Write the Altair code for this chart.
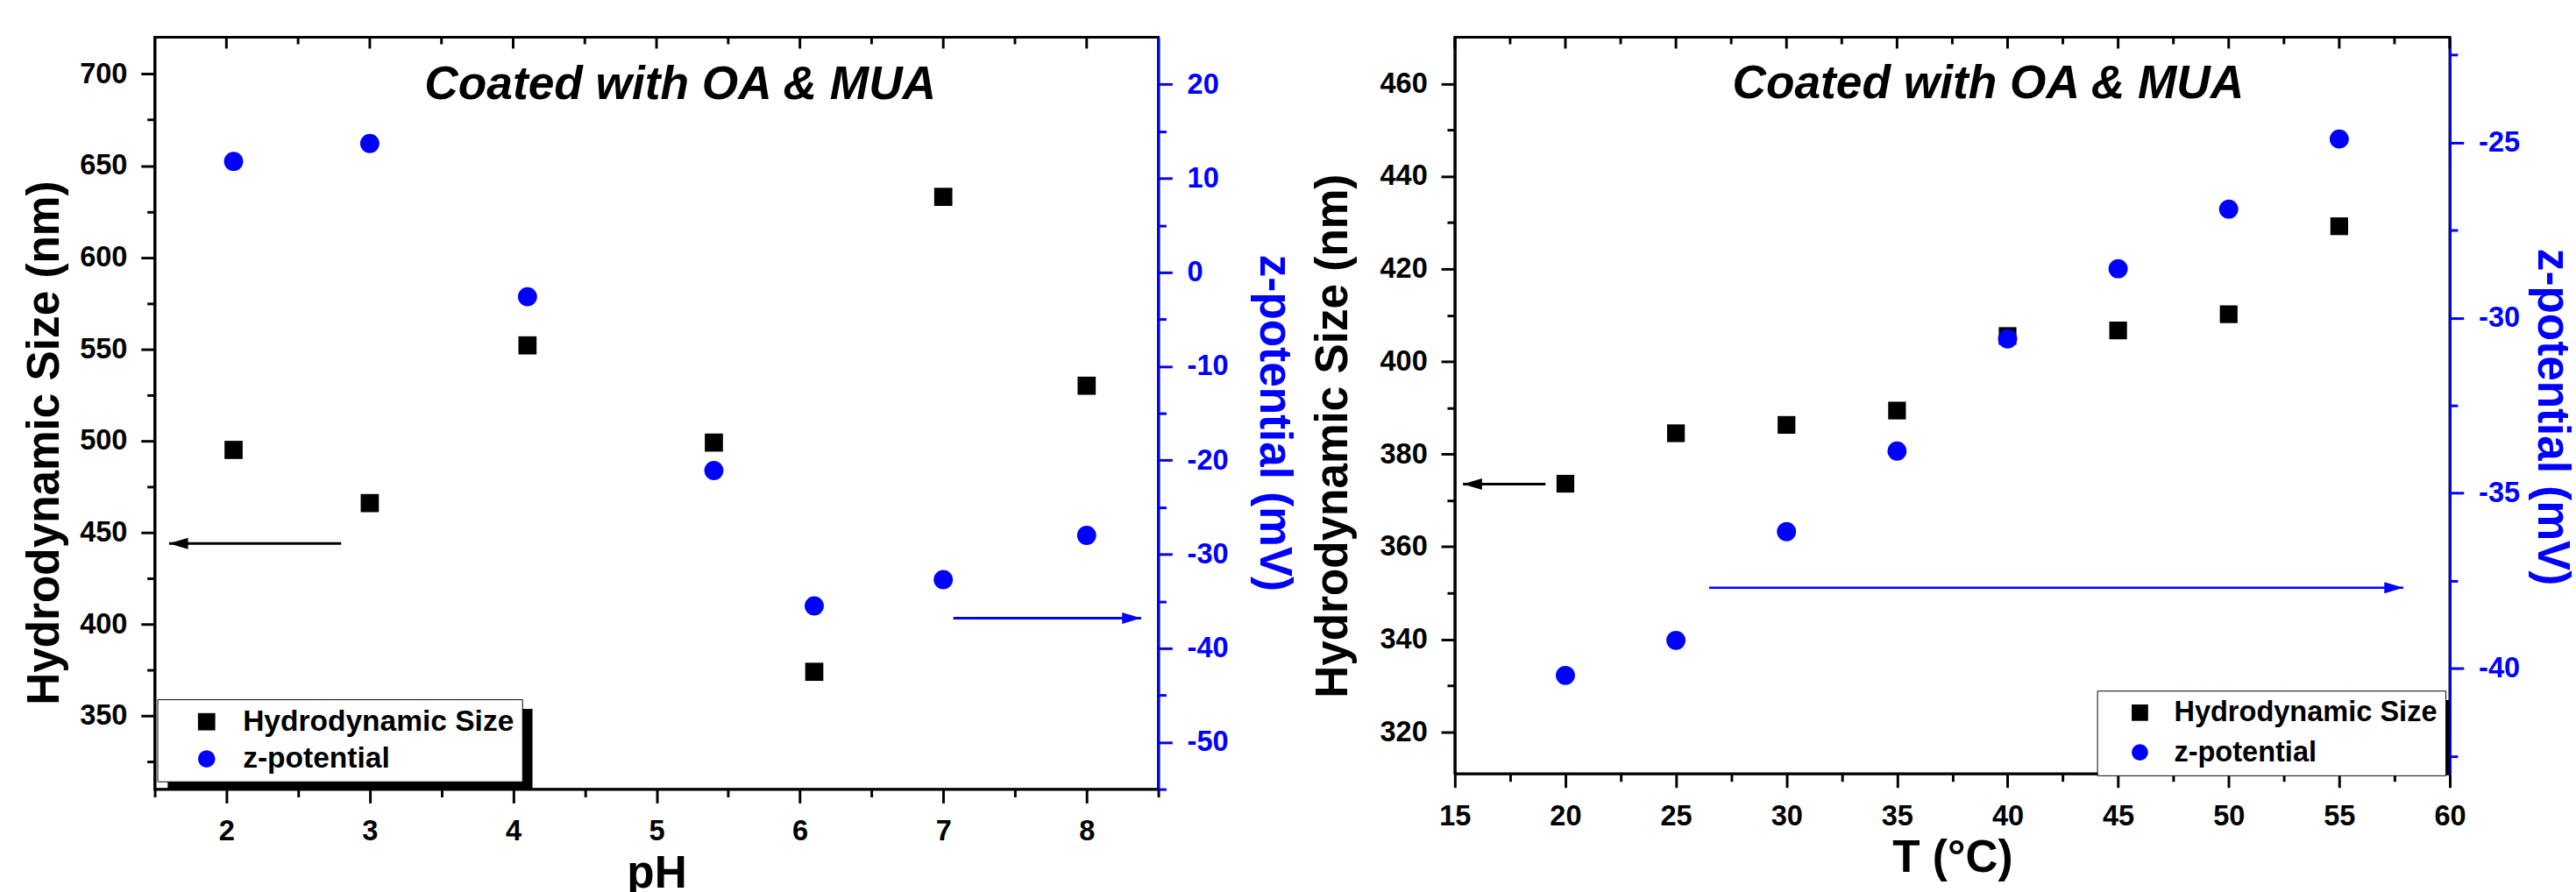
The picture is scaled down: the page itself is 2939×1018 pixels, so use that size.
import altair as alt
import pandas as pd

FONT = "Liberation Sans"
BLUE = "#0000ff"

series_names = ["Hydrodynamic Size", "z-potential"]
annotation = "Coated with OA & MUA"

# ---- Left panel: versus pH ----
ph = [2.05, 3.0, 4.1, 5.4, 6.1, 7.0, 8.0]
size_ph = [495, 466, 552, 499, 374, 633, 530]
zeta_ph = [11.8, 13.7, -2.6, -21.1, -35.5, -32.7, -28.0]

# ---- Right panel: versus temperature ----
temp = [20, 25, 30, 35, 40, 45, 50, 55]
size_t = [373.6, 384.5, 386.3, 389.4, 405.5, 406.7, 410.2, 429.2]
zeta_t = [-40.2, -39.2, -36.1, -33.8, -30.6, -28.6, -26.9, -24.9]

# ---- tick values ----
ph_ticks = [1.5, 2, 2.5, 3, 3.5, 4, 4.5, 5, 5.5, 6, 6.5, 7, 7.5, 8, 8.5]
ph_major = [2, 3, 4, 5, 6, 7, 8]
ph_minor = [2.5, 3.5, 4.5, 5.5, 6.5, 7.5]
size_ph_ticks = [325, 350, 375, 400, 425, 450, 475, 500, 525, 550, 575, 600, 625, 650, 675, 700]
zeta_ph_ticks = [-55, -50, -45, -40, -35, -30, -25, -20, -15, -10, -5, 0, 5, 10, 15, 20]

temp_ticks = [15, 17.5, 20, 22.5, 25, 27.5, 30, 32.5, 35, 37.5, 40, 42.5, 45, 47.5, 50, 52.5, 55, 57.5, 60]
temp_major = [15, 20, 25, 30, 35, 40, 45, 50, 55, 60]
temp_minor = [17.5, 22.5, 27.5, 32.5, 37.5, 42.5, 47.5, 52.5, 57.5]
size_t_ticks = [320, 330, 340, 350, 360, 370, 380, 390, 400, 410, 420, 430, 440, 450, 460]
zeta_t_ticks = [-42.5, -40, -37.5, -35, -32.5, -30, -27.5, -25, -22.5]

# ---- arrows: [start, tip, level] ----
ph_arrow_size = [2.8, 1.6, 444]
ph_arrow_zeta = [7.07, 8.38, -36.8]
t_arrow_size = [19.1, 15.37, 373.5]
t_arrow_zeta = [26.5, 57.9, -37.7]

HEAD_LEFT = "M 0 0 L 2 -0.6 L 2 0.6 Z"
HEAD_RIGHT = "M 0 0 L -2 -0.6 L -2 0.6 Z"


def axis(orient, values, step, color, title, title_pad, label_pad, **kw):
    test = f"datum.value % {step} === 0"
    return alt.Axis(
        orient=orient, values=values, title=title,
        labelExpr=f"{test} ? '' + datum.value : ''",
        tickSize={"condition": {"test": test, "value": 16}, "value": 9},
        tickWidth=3, tickColor=color, domainColor=color, domainWidth=3,
        labelColor=color, labelFont=FONT, labelFontSize=33, labelFontWeight="bold",
        labelPadding=label_pad, labelFlush=False, labelOverlap=False,
        titleColor=color, titleFont=FONT, titleFontSize=52, titleFontWeight="bold",
        titlePadding=title_pad, grid=False, **kw)


def panel(p):
    X = alt.X("x:Q", scale=alt.Scale(domain=p["xdom"], nice=False, zero=False),
              axis=axis("bottom", p["xticks"], p["xstep"], "black", p["xtitle"], 6, 17))
    YL = alt.Y("y:Q", scale=alt.Scale(domain=p["ydom"], nice=False, zero=False),
               axis=axis("left", p["yticks"], p["ystep"], "black", "Hydrodynamic Size (nm)",
                         p["ytp"], 16, titleY=p["yty"]))
    YR = alt.Y("z:Q", scale=alt.Scale(domain=p["zdom"], nice=False, zero=False),
               axis=axis("right", p["zticks"], p["zstep"], BLUE, "z-potential (mV)",
                         p["ztp"], 17, titleY=p["zty"]))
    lg = alt.Legend(title=None, orient="none", legendX=p["leg"][0], legendY=p["leg"][1],
                    direction="vertical", fillColor="white", strokeColor="black",
                    padding=p["lpad"], symbolSize=p["lsym"], symbolOffset=p["lso"],
                    labelOffset=p["llo"], rowPadding=p["lrow"], labelFont=FONT,
                    labelFontSize=p["lfs"], labelFontWeight="bold", labelColor="black",
                    symbolStrokeWidth=0, labelLimit=800)
    color = alt.Color("series:N", scale=alt.Scale(domain=series_names, range=["black", BLUE]), legend=lg)
    shape = alt.Shape("series:N", scale=alt.Scale(domain=series_names, range=["square", "circle"]), legend=lg)

    one = pd.DataFrame({"k": [0]})
    s = p["shadow"]
    shadow = alt.Chart(one).mark_rect(color="black").encode(
        x=alt.value(s[0]), x2=alt.value(s[1]), y=alt.value(s[2]), y2=alt.value(s[3]))
    top_major = alt.Chart(pd.DataFrame({"x": p["tmaj"]})).mark_rule(color="black", strokeWidth=3).encode(
        x=X, y=alt.value(0), y2=alt.value(13))
    top_minor = alt.Chart(pd.DataFrame({"x": p["tmin"]})).mark_rule(color="black", strokeWidth=3).encode(
        x=X, y=alt.value(0), y2=alt.value(8))

    df_l = pd.DataFrame({"x": p["xs"], "y": p["sizes"], "series": series_names[0]})
    df_r = pd.DataFrame({"x": p["xs"], "z": p["zetas"], "series": series_names[1]})
    squares = alt.Chart(df_l).mark_point(filled=True, size=p["sq"], opacity=1).encode(
        x=X, y=YL, color=color, shape=shape)
    a = p["arr_y"]
    arrow_l = alt.Chart(pd.DataFrame({"x": [a[0]], "x2": [a[1]], "y": [a[2]]})).mark_rule(
        color="black", strokeWidth=3).encode(x=X, x2="x2:Q", y=YL)
    head_l = alt.Chart(pd.DataFrame({"x": [a[1]], "y": [a[2]]})).mark_point(
        shape=HEAD_LEFT, size=484, filled=True, opacity=1, color="black", strokeWidth=0).encode(x=X, y=YL)
    left = alt.layer(shadow, top_major, top_minor, squares, arrow_l, head_l)

    circles = alt.Chart(df_r).mark_point(filled=True, size=p["ci"], opacity=1).encode(
        x=X, y=YR, color=color, shape=shape)
    b = p["arr_z"]
    arrow_r = alt.Chart(pd.DataFrame({"x": [b[0]], "x2": [b[1]], "z": [b[2]]})).mark_rule(
        color=BLUE, strokeWidth=p["bw"]).encode(x=X, x2="x2:Q", y=YR)
    head_r = alt.Chart(pd.DataFrame({"x": [b[1]], "z": [b[2]]})).mark_point(
        shape=HEAD_RIGHT, size=484, filled=True, opacity=1, color=BLUE, strokeWidth=0).encode(x=X, y=YR)
    right = alt.layer(circles, arrow_r, head_r)

    text = alt.Chart(one).mark_text(
        text=annotation, font=FONT, fontSize=54, fontWeight="bold", fontStyle="italic",
        align="center", baseline="middle", color="black").encode(
        x=alt.value(p["title"][0]), y=alt.value(p["title"][1]))

    return alt.layer(left, right, text).resolve_scale(y="independent").properties(
        width=p["W"], height=p["H"])


pA = panel(dict(
    xs=ph, sizes=size_ph, zetas=zeta_ph,
    xdom=[1.5, 8.5], xticks=ph_ticks, xstep=1, xtitle="pH", tmaj=ph_major, tmin=ph_minor,
    ydom=[310, 720], yticks=size_ph_ticks, ystep=50, ytp=13, yty=469,
    zdom=[-55, 25], zticks=zeta_ph_ticks, zstep=10, ztp=26, zty=446,
    arr_y=ph_arrow_size, arr_z=ph_arrow_zeta, bw=3,
    W=1161, H=870, leg=[3, 766], lpad=9, lsym=400, lso=31, llo=25, lrow=9, lfs=34,
    shadow=[15, 437, 777, 870], sq=441, ci=491, title=[608, 55]))

pB = panel(dict(
    xs=temp, sizes=size_t, zetas=zeta_t,
    xdom=[15, 60], xticks=temp_ticks, xstep=5, xtitle="T (°C)", tmaj=temp_major, tmin=temp_minor,
    ydom=[311, 470], yticks=size_t_ticks, ystep=20, ytp=27, yty=461,
    zdom=[-43, -22], zticks=zeta_t_ticks, zstep=5, ztp=10, zty=439,
    arr_y=t_arrow_size, arr_z=t_arrow_zeta, bw=2.5,
    W=1151, H=852, leg=[743, 756], lpad=9, lsym=361, lso=24, llo=23, lrow=12, lfs=33,
    shadow=[753, 1151, 767, 852], sq=420, ci=491, title=[617, 54]))

chart = alt.hconcat(pA, pB, spacing=12).resolve_scale(
    x="independent", y="independent", color="independent", shape="independent"
).properties(
    padding={"left": 24, "top": 33, "right": 0, "bottom": 0}, background="white"
).configure_view(stroke="black", strokeWidth=3).configure_axis(grid=False)

chart.save("out.html", embed_options={"renderer": "svg", "actions": False})
